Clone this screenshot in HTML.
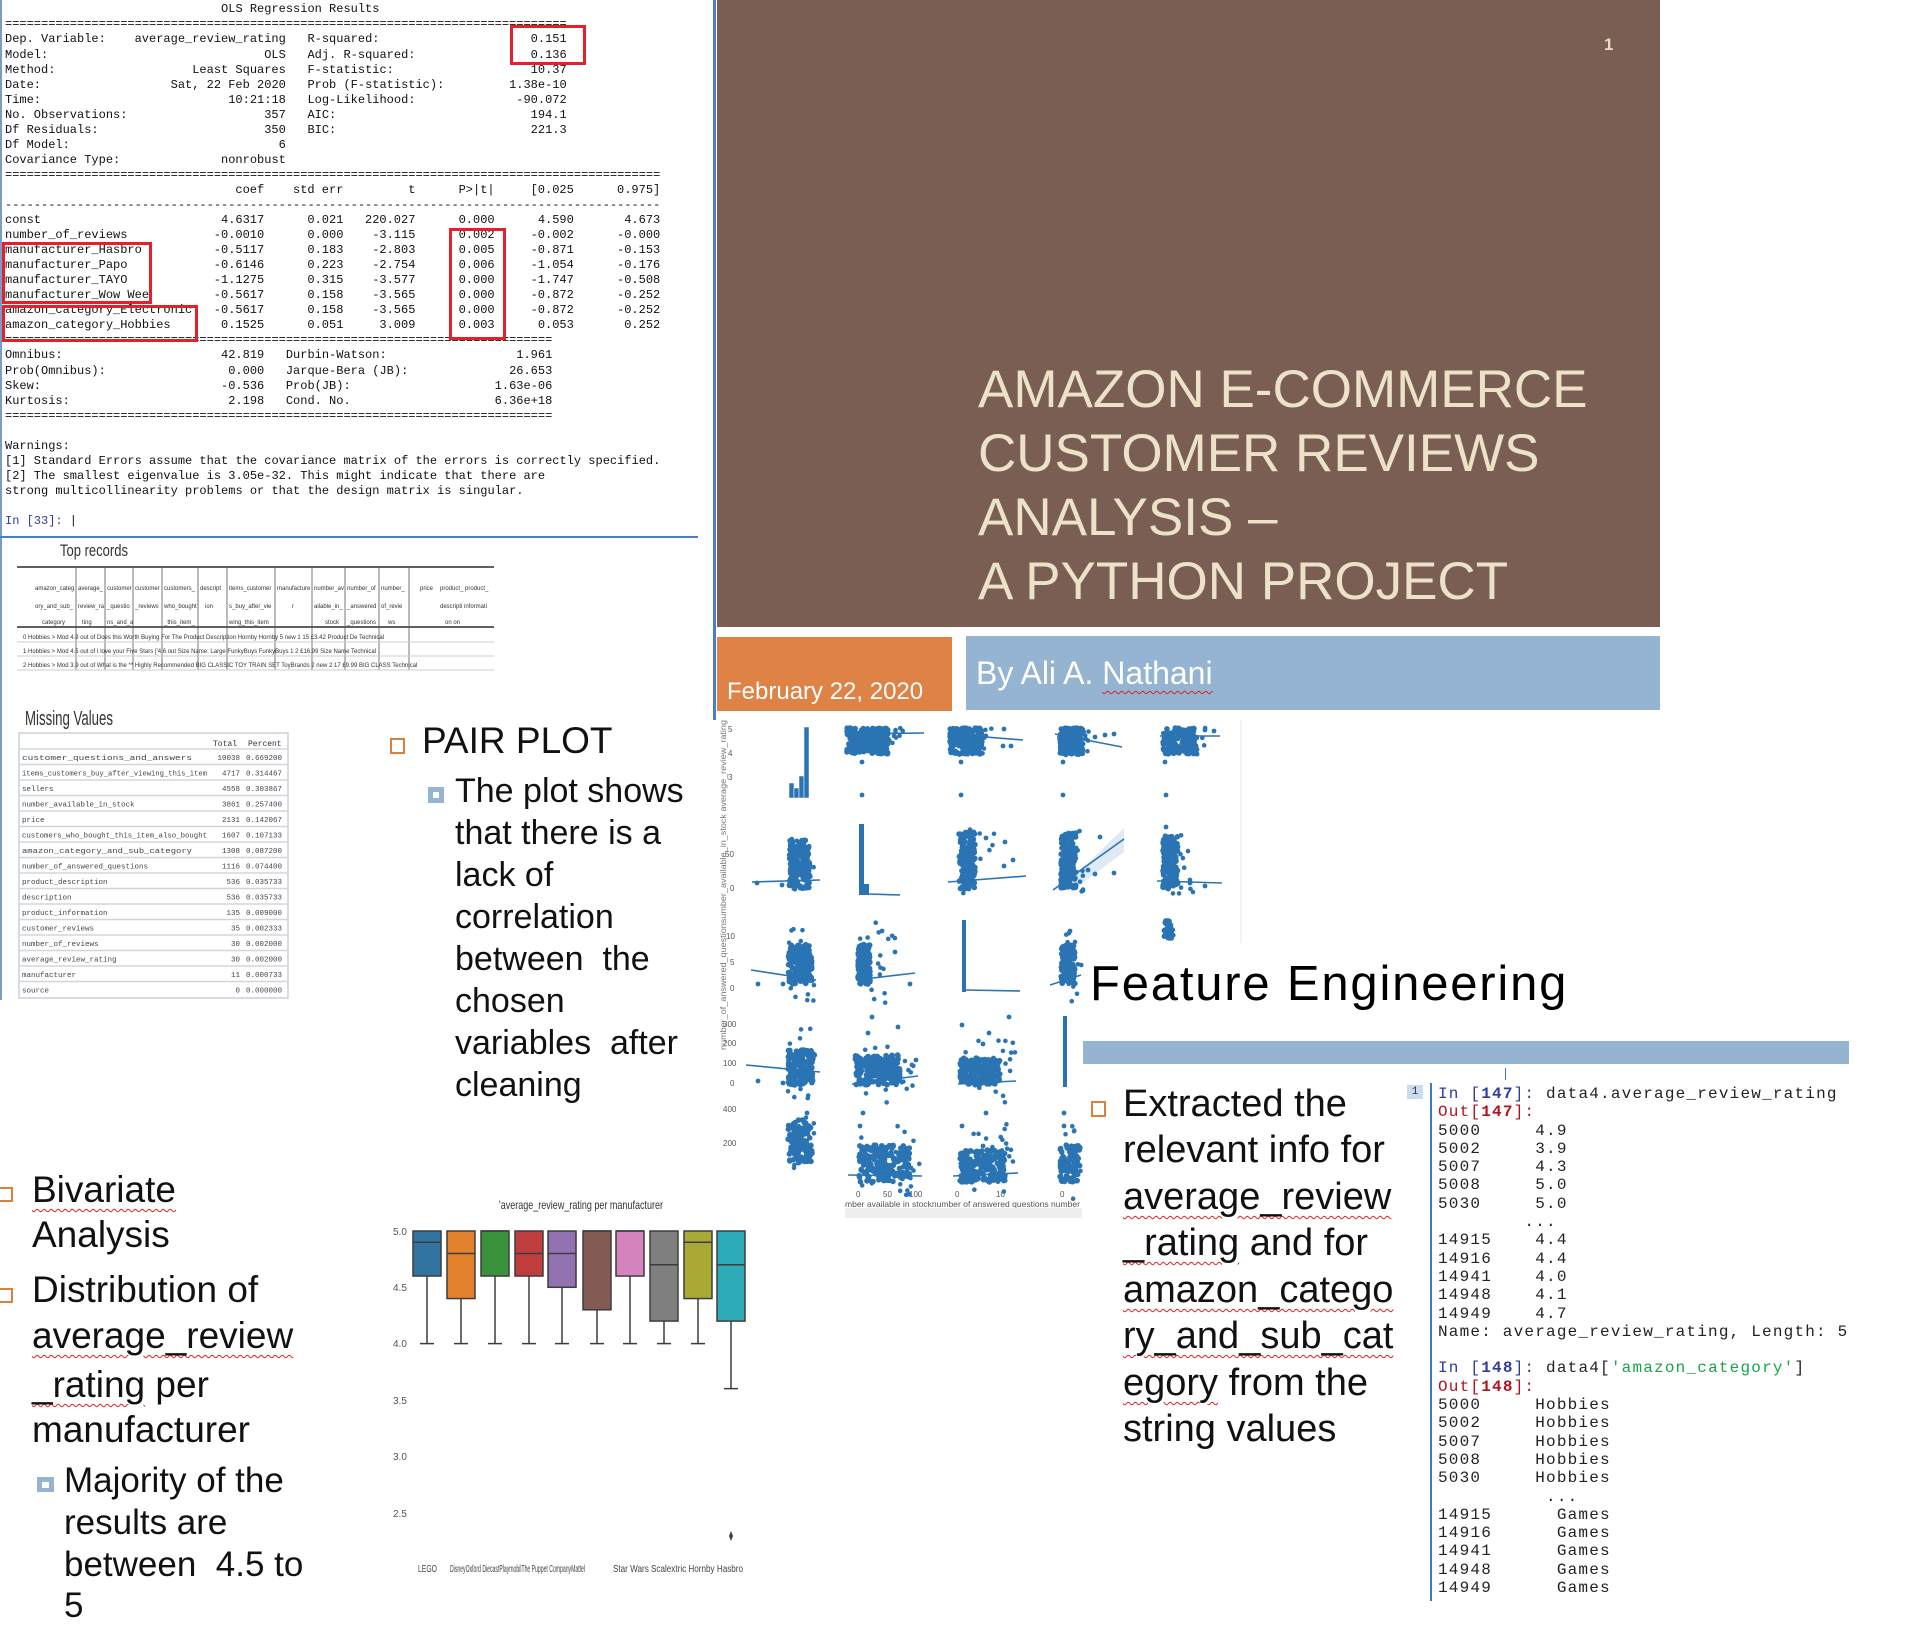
<!DOCTYPE html>
<html><head><meta charset="utf-8">
<style>
*{margin:0;padding:0;box-sizing:border-box}
body{width:1920px;height:1638px;background:#fff;position:relative;overflow:hidden;font-family:"Liberation Sans",sans-serif}
.t{position:absolute;white-space:nowrap;line-height:1}
#ols{position:absolute;left:5px;top:2.4px;font-family:"Liberation Mono",monospace;font-size:12px;color:#111}
#ols div,#code div{height:15.05px;line-height:15.05px;white-space:pre}
.f{display:inline-flex;justify-content:space-between}
.n{display:inline-block;text-align:right}
.rb{position:absolute;border:3px solid #e3202b}
#code{position:absolute;left:1438px;top:1085px;font-family:"Liberation Mono",monospace;font-size:16px;letter-spacing:1.2px;color:#222}
#code div{height:18.3px;line-height:18.3px}
.ib{color:#2f3c9e}.ob{color:#b0141c}.gr{color:#1aa34a}
.wv{text-decoration:underline wavy #e02020;text-decoration-thickness:1px;text-underline-offset:6px}
.sq{position:absolute;border:2.5px solid #d9803f}
.sb{position:absolute;background:#94b4d2}
.sb::after{content:"";position:absolute;left:30%;top:30%;width:40%;height:40%;background:#fff}
</style></head><body>

<div style="position:absolute;left:0;top:0;width:2px;height:1000px;background:#7a9cc8"></div>
<div style="position:absolute;left:713px;top:0;width:3px;height:720px;background:#4a7fc8"></div>
<div style="position:absolute;left:0;top:536px;width:698px;height:2px;background:#4a7fc8"></div>
<div id="ols">
<div>                              OLS Regression Results</div>
<div>==============================================================================</div>
<div><span class="f" style="width:39ch"><span>Dep. Variable:</span><span>average_review_rating</span></span>   <span class="f" style="width:36ch"><span>R-squared:</span><span>0.151</span></span></div>
<div><span class="f" style="width:39ch"><span>Model:</span><span>OLS</span></span>   <span class="f" style="width:36ch"><span>Adj. R-squared:</span><span>0.136</span></span></div>
<div><span class="f" style="width:39ch"><span>Method:</span><span>Least Squares</span></span>   <span class="f" style="width:36ch"><span>F-statistic:</span><span>10.37</span></span></div>
<div><span class="f" style="width:39ch"><span>Date:</span><span>Sat, 22 Feb 2020</span></span>   <span class="f" style="width:36ch"><span>Prob (F-statistic):</span><span>1.38e-10</span></span></div>
<div><span class="f" style="width:39ch"><span>Time:</span><span>10:21:18</span></span>   <span class="f" style="width:36ch"><span>Log-Likelihood:</span><span>-90.072</span></span></div>
<div><span class="f" style="width:39ch"><span>No. Observations:</span><span>357</span></span>   <span class="f" style="width:36ch"><span>AIC:</span><span>194.1</span></span></div>
<div><span class="f" style="width:39ch"><span>Df Residuals:</span><span>350</span></span>   <span class="f" style="width:36ch"><span>BIC:</span><span>221.3</span></span></div>
<div><span class="f" style="width:39ch"><span>Df Model:</span><span>6</span></span></div>
<div><span class="f" style="width:39ch"><span>Covariance Type:</span><span>nonrobust</span></span></div>
<div>===========================================================================================</div>
<div><span class="n" style="width:26ch"></span><span class="n" style="width:10ch">coef</span><span class="n" style="width:11ch">std err</span><span class="n" style="width:10ch">t</span><span class="n" style="width:11ch">P&gt;|t|</span><span class="n" style="width:11ch">[0.025</span><span class="n" style="width:12ch">0.975]</span></div>
<div>-------------------------------------------------------------------------------------------</div>
<div><span class="f" style="width:26ch">const</span><span class="n" style="width:10ch">4.6317</span><span class="n" style="width:11ch">0.021</span><span class="n" style="width:10ch">220.027</span><span class="n" style="width:11ch">0.000</span><span class="n" style="width:11ch">4.590</span><span class="n" style="width:12ch">4.673</span></div>
<div><span class="f" style="width:26ch">number_of_reviews</span><span class="n" style="width:10ch">-0.0010</span><span class="n" style="width:11ch">0.000</span><span class="n" style="width:10ch">-3.115</span><span class="n" style="width:11ch">0.002</span><span class="n" style="width:11ch">-0.002</span><span class="n" style="width:12ch">-0.000</span></div>
<div><span class="f" style="width:26ch">manufacturer_Hasbro</span><span class="n" style="width:10ch">-0.5117</span><span class="n" style="width:11ch">0.183</span><span class="n" style="width:10ch">-2.803</span><span class="n" style="width:11ch">0.005</span><span class="n" style="width:11ch">-0.871</span><span class="n" style="width:12ch">-0.153</span></div>
<div><span class="f" style="width:26ch">manufacturer_Papo</span><span class="n" style="width:10ch">-0.6146</span><span class="n" style="width:11ch">0.223</span><span class="n" style="width:10ch">-2.754</span><span class="n" style="width:11ch">0.006</span><span class="n" style="width:11ch">-1.054</span><span class="n" style="width:12ch">-0.176</span></div>
<div><span class="f" style="width:26ch">manufacturer_TAYO</span><span class="n" style="width:10ch">-1.1275</span><span class="n" style="width:11ch">0.315</span><span class="n" style="width:10ch">-3.577</span><span class="n" style="width:11ch">0.000</span><span class="n" style="width:11ch">-1.747</span><span class="n" style="width:12ch">-0.508</span></div>
<div><span class="f" style="width:26ch">manufacturer_Wow Wee</span><span class="n" style="width:10ch">-0.5617</span><span class="n" style="width:11ch">0.158</span><span class="n" style="width:10ch">-3.565</span><span class="n" style="width:11ch">0.000</span><span class="n" style="width:11ch">-0.872</span><span class="n" style="width:12ch">-0.252</span></div>
<div><span class="f" style="width:26ch">amazon_category_Electronic</span><span class="n" style="width:10ch">-0.5617</span><span class="n" style="width:11ch">0.158</span><span class="n" style="width:10ch">-3.565</span><span class="n" style="width:11ch">0.000</span><span class="n" style="width:11ch">-0.872</span><span class="n" style="width:12ch">-0.252</span></div>
<div><span class="f" style="width:26ch">amazon_category_Hobbies</span><span class="n" style="width:10ch">0.1525</span><span class="n" style="width:11ch">0.051</span><span class="n" style="width:10ch">3.009</span><span class="n" style="width:11ch">0.003</span><span class="n" style="width:11ch">0.053</span><span class="n" style="width:12ch">0.252</span></div>
<div>============================================================================</div>
<div><span class="f" style="width:36ch"><span>Omnibus:</span><span>42.819</span></span>   <span class="f" style="width:37ch"><span>Durbin-Watson:</span><span>1.961</span></span></div>
<div><span class="f" style="width:36ch"><span>Prob(Omnibus):</span><span>0.000</span></span>   <span class="f" style="width:37ch"><span>Jarque-Bera (JB):</span><span>26.653</span></span></div>
<div><span class="f" style="width:36ch"><span>Skew:</span><span>-0.536</span></span>   <span class="f" style="width:37ch"><span>Prob(JB):</span><span>1.63e-06</span></span></div>
<div><span class="f" style="width:36ch"><span>Kurtosis:</span><span>2.198</span></span>   <span class="f" style="width:37ch"><span>Cond. No.</span><span>6.36e+18</span></span></div>
<div>============================================================================</div>
<div> </div>
<div>Warnings:</div>
<div>[1] Standard Errors assume that the covariance matrix of the errors is correctly specified.</div>
<div>[2] The smallest eigenvalue is 3.05e-32. This might indicate that there are</div>
<div>strong multicollinearity problems or that the design matrix is singular.</div>
<div> </div>
<div><span style="color:#2f3c9e">In [33]:</span> |</div>
</div>
<div class="rb" style="left:510px;top:25px;width:76px;height:40px"></div>
<div class="rb" style="left:449px;top:228px;width:57px;height:112px"></div>
<div class="rb" style="left:2px;top:242px;width:150px;height:62px"></div>
<div class="rb" style="left:2px;top:305px;width:196px;height:37px"></div>

<svg style="position:absolute;left:0;top:540px" width="710" height="470" font-family="Liberation Sans" fill="#333">
<text x="60" y="16" font-size="17" textLength="68" lengthAdjust="spacingAndGlyphs">Top records</text>
<line x1="17" y1="27" x2="494" y2="27" stroke="#000" stroke-width="1.2"/>
<line x1="17" y1="87" x2="494" y2="87" stroke="#000" stroke-width="1.2"/>
<g stroke="#555" stroke-width="0.8">
<line x1="76" y1="27" x2="76" y2="130"/><line x1="105" y1="27" x2="105" y2="130"/><line x1="133" y1="27" x2="133" y2="130"/><line x1="162" y1="27" x2="162" y2="130"/><line x1="198" y1="27" x2="198" y2="130"/><line x1="227" y1="27" x2="227" y2="130"/><line x1="275" y1="27" x2="275" y2="130"/><line x1="312" y1="27" x2="312" y2="130"/><line x1="345" y1="27" x2="345" y2="130"/><line x1="379" y1="27" x2="379" y2="130"/><line x1="409" y1="27" x2="409" y2="130"/>
</g>
<g stroke="#ccc"><line x1="17" y1="102" x2="494" y2="102"/><line x1="17" y1="116" x2="494" y2="116"/><line x1="17" y1="130" x2="494" y2="130"/></g>
<g font-size="6">
<text x="35" y="50">amazon_categ</text><text x="35" y="68">ory_and_sub_</text><text x="42" y="84">category</text>
<text x="78" y="50">average_</text><text x="78" y="68">review_ra</text><text x="82" y="84">ting</text>
<text x="107" y="50">customer</text><text x="107" y="68">_questio</text><text x="107" y="84">ns_and_a</text>
<text x="135" y="50">customer</text><text x="135" y="68">_reviews</text>
<text x="164" y="50">customers_</text><text x="164" y="68">who_bought</text><text x="164" y="84">_this_item_</text>
<text x="200" y="50">descript</text><text x="205" y="68">ion</text>
<text x="229" y="50">items_customer</text><text x="229" y="68">s_buy_after_vie</text><text x="229" y="84">wing_this_item</text>
<text x="277" y="50">manufacture</text><text x="292" y="68">r</text>
<text x="314" y="50">number_av</text><text x="314" y="68">ailable_in_</text><text x="325" y="84">stock</text>
<text x="347" y="50">number_of</text><text x="347" y="68">_answered</text><text x="347" y="84">_questions</text>
<text x="381" y="50">number_</text><text x="381" y="68">of_revie</text><text x="388" y="84">ws</text>
<text x="420" y="50">price</text>
<text x="440" y="50">product_ product_</text><text x="440" y="68">descripti informati</text><text x="445" y="84">on      on</text>
<text x="23" y="99">0  Hobbies &gt; Mod 4.9 out of Does this Worth Buying For The Product Description Hornby Hornby  5 new          1     15 £3.42  Product De Technical</text>
<text x="23" y="113">1  Hobbies &gt; Mod 4.5 out of I love your Five Stars ['4.6 out Size Name: Large FunkyBuys FunkyBuys             1      2 £16.99  Size Name Technical</text>
<text x="23" y="127">2  Hobbies &gt; Mod 3.9 out of What is the ** Highly Recommended BIG CLASSIC TOY TRAIN SET ToyBrands 2 new     2     17 £9.99  BIG CLASS Technical</text>
</g>
<text x="25" y="185" font-size="20" textLength="88" lengthAdjust="spacingAndGlyphs">Missing Values</text>
<rect x="19" y="193" width="269" height="265" fill="none" stroke="#c8d0dc" stroke-width="1.5"/>
<g font-size="8" font-family="Liberation Mono">
<text x="213" y="206">Total</text><text x="248" y="206">Percent</text>
</g>
<g id="mv" font-size="7.5" font-family="Liberation Mono"></g>
</svg>

<div style="position:absolute;left:717px;top:0;width:943px;height:627px;background:#7a5e54"></div>
<div class="t" style="left:1604px;top:36px;font-size:17px;font-weight:bold;color:#e8dcc4">1</div>
<div class="t" style="left:978px;top:363px;font-size:53px;color:#ece2c8">AMAZON E-COMMERCE</div>
<div class="t" style="left:978px;top:427px;font-size:53px;color:#ece2c8">CUSTOMER REVIEWS</div>
<div class="t" style="left:978px;top:491px;font-size:53px;color:#ece2c8">ANALYSIS –</div>
<div class="t" style="left:978px;top:555px;font-size:53px;color:#ece2c8">A PYTHON PROJECT</div>
<div style="position:absolute;left:717px;top:637px;width:235px;height:74px;background:#de8246"></div>
<div class="t" style="left:727px;top:680px;font-size:24px;color:#fff">February 22, 2020</div>
<div style="position:absolute;left:966px;top:636px;width:694px;height:74px;background:#94b4d2"></div>
<div class="t" style="left:976px;top:657px;font-size:32px;color:#fff">By Ali A. <span class="wv">Nathani</span></div>

<div class="sq" style="left:390px;top:738px;width:15px;height:16px"></div>
<div class="t" style="left:422px;top:722px;font-size:37px;color:#111">PAIR PLOT</div>
<div class="sb" style="left:428px;top:787px;width:16px;height:16px"></div>
<div class="t" style="left:455px;top:774px;font-size:34px;color:#111">The plot shows</div>
<div class="t" style="left:455px;top:816px;font-size:34px;color:#111">that there is a</div>
<div class="t" style="left:455px;top:858px;font-size:34px;color:#111">lack of</div>
<div class="t" style="left:455px;top:900px;font-size:34px;color:#111">correlation</div>
<div class="t" style="left:455px;top:942px;font-size:34px;color:#111">between &nbsp;the</div>
<div class="t" style="left:455px;top:984px;font-size:34px;color:#111">chosen</div>
<div class="t" style="left:455px;top:1026px;font-size:34px;color:#111">variables &nbsp;after</div>
<div class="t" style="left:455px;top:1068px;font-size:34px;color:#111">cleaning</div>

<svg id="pp" style="position:absolute;left:720px;top:720px" width="560" height="520" font-family="Liberation Sans">
<g fill="#555" font-size="8">
<text x="8" y="12">5</text><text x="8" y="36">4</text><text x="8" y="60">3</text>
<text x="5" y="137">50</text><text x="10" y="171">0</text>
<text x="6" y="219">10</text><text x="10" y="245">5</text><text x="10" y="271">0</text>
<text x="3" y="307">300</text><text x="3" y="326">200</text><text x="3" y="346">100</text><text x="10" y="366">0</text>
<text x="3" y="392">400</text><text x="3" y="426">200</text>
<text x="136" y="477">0</text><text x="163" y="477">50</text><text x="189" y="477">100</text><text x="235" y="477">0</text><text x="276" y="477">10</text><text x="340" y="477">0</text>
<text x="125" y="487" font-size="8.5" textLength="235" lengthAdjust="spacingAndGlyphs">mber  available  in  stocknumber  of  answered  questions number</text>
</g>
<text transform="translate(6,330) rotate(-90)" font-size="8" fill="#777" textLength="330" lengthAdjust="spacingAndGlyphs">number_of_answered_questionsumber_available_in_stock  average_review_rating</text>
<rect x="125" y="488" width="237" height="10" fill="#eee"/>
<line x1="521" y1="0" x2="521" y2="223" stroke="#e4e8f0"/>
<g id="ppg" fill="#2a74b4" stroke="#2a74b4"></g>
</svg>

<div class="t" style="left:1090px;top:960px;font-size:49px;letter-spacing:1.8px;color:#000">Feature Engineering</div>
<div style="position:absolute;left:1083px;top:1041px;width:766px;height:23px;background:#94b4d2"></div>
<div class="sq" style="left:1091px;top:1101px;width:15px;height:16px"></div>
<div class="t" style="left:1123px;top:1085px;font-size:38px;color:#111">Extracted the</div>
<div class="t" style="left:1123px;top:1131px;font-size:38px;color:#111">relevant info for</div>
<div class="t" style="left:1123px;top:1178px;font-size:38px;color:#111"><span class="wv">average_review</span></div>
<div class="t" style="left:1123px;top:1224px;font-size:38px;color:#111"><span class="wv">_rating</span> and for</div>
<div class="t" style="left:1123px;top:1271px;font-size:38px;color:#111"><span class="wv">amazon_catego</span></div>
<div class="t" style="left:1123px;top:1317px;font-size:38px;color:#111"><span class="wv">ry_and_sub_cat</span></div>
<div class="t" style="left:1123px;top:1364px;font-size:38px;color:#111"><span class="wv">egory</span> from the</div>
<div class="t" style="left:1123px;top:1410px;font-size:38px;color:#111">string values</div>

<div style="position:absolute;left:1407px;top:1085px;width:16px;height:14px;background:#c9dcf2;font:11px 'Liberation Mono',monospace;text-align:center;line-height:14px;color:#333">1</div>
<div style="position:absolute;left:1430px;top:1083px;width:2px;height:518px;background:#3a78c8"></div>
<div style="position:absolute;left:1505px;top:1068px;width:1px;height:12px;background:#3a78c8"></div>
<div id="code">
<div><span class="ib">In [<b>147</b>]:</span> data4.average_review_rating</div>
<div><span class="ob">Out[<b>147</b>]:</span></div>
<div>5000     4.9</div>
<div>5002     3.9</div>
<div>5007     4.3</div>
<div>5008     5.0</div>
<div>5030     5.0</div>
<div>        ...</div>
<div>14915    4.4</div>
<div>14916    4.4</div>
<div>14941    4.0</div>
<div>14948    4.1</div>
<div>14949    4.7</div>
<div>Name: average_review_rating, Length: 5</div>
<div> </div>
<div><span class="ib">In [<b>148</b>]:</span> data4[<span class="gr">'amazon_category'</span>]</div>
<div><span class="ob">Out[<b>148</b>]:</span></div>
<div>5000     Hobbies</div>
<div>5002     Hobbies</div>
<div>5007     Hobbies</div>
<div>5008     Hobbies</div>
<div>5030     Hobbies</div>
<div>          ...</div>
<div>14915      Games</div>
<div>14916      Games</div>
<div>14941      Games</div>
<div>14948      Games</div>
<div>14949      Games</div>
</div>

<div class="sq" style="left:-4px;top:1187px;width:17px;height:15px"></div>
<div class="t" style="left:32px;top:1171px;font-size:37px;color:#111"><span class="wv">Bivariate</span></div>
<div class="t" style="left:32px;top:1216px;font-size:37px;color:#111">Analysis</div>
<div class="sq" style="left:-4px;top:1288px;width:17px;height:15px"></div>
<div class="t" style="left:32px;top:1271px;font-size:37px;color:#111">Distribution of</div>
<div class="t" style="left:32px;top:1317px;font-size:37px;color:#111"><span class="wv">average_review</span></div>
<div class="t" style="left:32px;top:1366px;font-size:37px;color:#111"><span class="wv">_rating</span> per</div>
<div class="t" style="left:32px;top:1411px;font-size:37px;color:#111">manufacturer</div>
<div class="sb" style="left:37px;top:1477px;width:17px;height:15px"></div>
<div class="t" style="left:64px;top:1463px;font-size:35px;color:#111">Majority of the</div>
<div class="t" style="left:64px;top:1505px;font-size:35px;color:#111">results are</div>
<div class="t" style="left:64px;top:1547px;font-size:35px;color:#111">between &nbsp;4.5 to</div>
<div class="t" style="left:64px;top:1588px;font-size:35px;color:#111">5</div>

<svg id="bx" style="position:absolute;left:0;top:0" width="1920" height="1638" font-family="Liberation Sans">
<text x="499" y="1209" font-size="12" fill="#333" textLength="164" lengthAdjust="spacingAndGlyphs">'average_review_rating per manufacturer</text>
<g font-size="10" fill="#555">
<text x="393" y="1235">5.0</text><text x="393" y="1291">4.5</text><text x="393" y="1347">4.0</text><text x="393" y="1404">3.5</text><text x="393" y="1460">3.0</text><text x="393" y="1517">2.5</text>
</g>
<g font-size="10" fill="#444">
<text x="418" y="1572" textLength="19" lengthAdjust="spacingAndGlyphs">LEGO</text>
<text x="450" y="1572" textLength="135" lengthAdjust="spacingAndGlyphs">DisneyOxford DiecastPlaymobilThe Puppet CompanyMattel</text>
<text x="613" y="1572" textLength="130" lengthAdjust="spacingAndGlyphs">Star Wars Scalextric  Hornby   Hasbro</text>
</g>
<g id="bxg"></g>
</svg>

<script>
(function(){
var NS="http://www.w3.org/2000/svg";
function el(p,n,a){var e=document.createElementNS(NS,n);for(var k in a)e.setAttribute(k,a[k]);p.appendChild(e);return e;}
var g=document.getElementById('bxg');
var Y=function(v){return 1231+(5-v)*112.6;};
var B=[[413,'#3274a1',4.9,4.6,4.0],[447,'#e1812c',4.8,4.4,4.0],[481,'#3a923a',5.0,4.6,4.0],[515,'#c03d3e',4.8,4.6,4.0],[548,'#9372b2',4.8,4.5,4.0],[583,'#845b53',5.0,4.3,4.0],[616,'#d684bd',5.0,4.6,4.0],[650,'#7f7f7f',4.7,4.2,4.0],[684,'#a9aa35',4.9,4.4,4.0],[717,'#2eabb8',4.7,4.2,3.6]];
B.forEach(function(b){var x=b[0],w=28,c=x+w/2;
el(g,'line',{x1:c,y1:Y(b[3]),x2:c,y2:Y(b[4]),stroke:'#3d3d3d','stroke-width':1.5});
el(g,'line',{x1:c-7,y1:Y(b[4]),x2:c+7,y2:Y(b[4]),stroke:'#3d3d3d','stroke-width':1.5});
el(g,'rect',{x:x,y:Y(5),width:w,height:Y(b[3])-Y(5),fill:b[1],stroke:'#3d3d3d','stroke-width':1.5});
el(g,'line',{x1:x,y1:Y(b[2]),x2:x+w,y2:Y(b[2]),stroke:'#3d3d3d','stroke-width':1.5});});
el(g,'path',{d:'M731 1531 L733 1536 L731 1541 L729 1536Z',fill:'#3d3d3d'});
var mv=document.getElementById('mv');
var R=[["customer_questions_and_answers","10038","0.669200"],["items_customers_buy_after_viewing_this_item","4717","0.314467"],["sellers","4558","0.303867"],["number_available_in_stock","3861","0.257400"],["price","2131","0.142067"],["customers_who_bought_this_item_also_bought","1607","0.107133"],["amazon_category_and_sub_category","1308","0.087200"],["number_of_answered_questions","1116","0.074400"],["product_description","536","0.035733"],["description","536","0.035733"],["product_information","135","0.009000"],["customer_reviews","35","0.002333"],["number_of_reviews","30","0.002000"],["average_review_rating","30","0.002000"],["manufacturer","11","0.000733"],["source","0","0.000000"]];
R.forEach(function(r,i){var y=209+i*15.5;
el(mv,'line',{x1:19,y1:y,x2:288,y2:y,stroke:'#d0d6e0','stroke-width':1.4});
var t=el(mv,'text',{x:22,y:y+11,fill:'#444'});t.textContent=r[0];if(r[0].length>28){t.setAttribute('textLength',r[0].length>40?185:170);t.setAttribute('lengthAdjust','spacingAndGlyphs');}
var a=el(mv,'text',{x:240,y:y+11,'text-anchor':'end',fill:'#444'});a.textContent=r[1];
var b=el(mv,'text',{x:246,y:y+11,fill:'#444'});b.textContent=r[2];});
var pg=document.getElementById('ppg');var s=7;
function rnd(){s=(s*16807)%2147483647;return s/2147483647;}
function blob(x1,y1,x2,y2,n,sx,sy){
for(var i=0;i<n*8;i++){var x=x1+rnd()*(x2-x1),y=y1+rnd()*(y2-y1);el(pg,'circle',{cx:x,cy:y,r:2.8,stroke:'none'});}
for(var i=0;i<n;i++){var x=x1+rnd()*(x2-x1+sx),y=y1-sy*rnd()+rnd()*(y2-y1+sy);el(pg,'circle',{cx:x,cy:y,r:2.3,stroke:'none'});}}
function dot(x,y){el(pg,'circle',{cx:x,cy:y,r:2.4,stroke:'none'});}
function ln(a,b,c,d){el(pg,'line',{x1:a,y1:b,x2:c,y2:d,'stroke-width':1.6});}
[[69,63],[74,68],[79,56],[84,7]].forEach(function(h){el(pg,'rect',{x:h[0],y:h[1],width:5,height:78-h[1],fill:'#2a74b4',stroke:'#fff','stroke-width':0.5});});
blob(127,8,168,34,30,15,2);ln(125,14,204,13);dot(142,42);dot(142,75);
blob(230,8,262,34,25,10,2);ln(229,14,303,20);dot(284,9);dot(291,26);dot(283,26);dot(241,42);dot(241,75);
blob(340,8,363,34,20,6,2);ln(335,14,402,27);dot(375,17);dot(385,15);dot(394,14);dot(343,42);dot(343,75);
blob(443,8,477,34,20,10,2);ln(440,16,500,16);dot(485,10);dot(494,11);dot(465,32);dot(445,42);dot(446,75);
blob(69,120,90,169,20,4,12);ln(32,162,100,160);dot(37,163);dot(62,165);
el(pg,'rect',{x:139,y:104,width:5,height:71,stroke:'none'});el(pg,'rect',{x:144,y:164,width:5,height:11,stroke:'none'});ln(149,174,180,175);
blob(239,112,255,169,20,20,8);ln(228,162,306,156);dot(266,118);dot(285,122);dot(284,146);dot(293,140);
blob(341,112,356,169,20,8,8);ln(333,170,404,119);el(pg,'path',{d:'M350 160 L404 108 L404 132 L360 165Z',fill:'#2a74b4',opacity:0.15,stroke:'none'});dot(380,117);dot(368,150);dot(375,154);dot(394,153);
blob(443,116,458,169,20,15,8);ln(437,161,502,163);dot(470,163);dot(485,166);dot(446,107);
blob(68,225,92,264,20,4,25);ln(31,250,96,260);dot(38,264);dot(63,264);
blob(138,225,150,264,20,25,25);ln(136,260,195,253);dot(175,232);dot(162,211);dot(190,264);
el(pg,'rect',{x:242,y:200,width:4,height:72,stroke:'none'});ln(246,270,300,271);
blob(341,225,355,264,15,8,25);ln(330,265,361,255);dot(350,211);
blob(444,200,452,218,4,2,1);
blob(68,330,93,365,20,4,30);ln(26,345,100,352);dot(38,361);dot(63,363);
blob(135,335,180,365,25,15,25);ln(132,364,198,356);dot(152,297);dot(148,313);dot(178,307);dot(196,340);
blob(240,338,280,365,25,15,25);ln(238,364,296,361);dot(242,305);dot(269,313);dot(263,324);dot(289,297);
el(pg,'rect',{x:343,y:296,width:4,height:71,stroke:'none'});
blob(68,400,92,443,15,2,10);dot(87,393);dot(89,406);
blob(139,425,190,462,25,15,30);ln(128,455,202,456);dot(143,393);dot(140,406);dot(162,430);dot(191,448);
blob(240,430,285,462,25,12,30);ln(233,456,298,453);dot(242,406);dot(266,393);dot(263,426);
blob(340,425,360,462,12,2,30);dot(344,393);dot(344,406);
})();
</script>
</body></html>
